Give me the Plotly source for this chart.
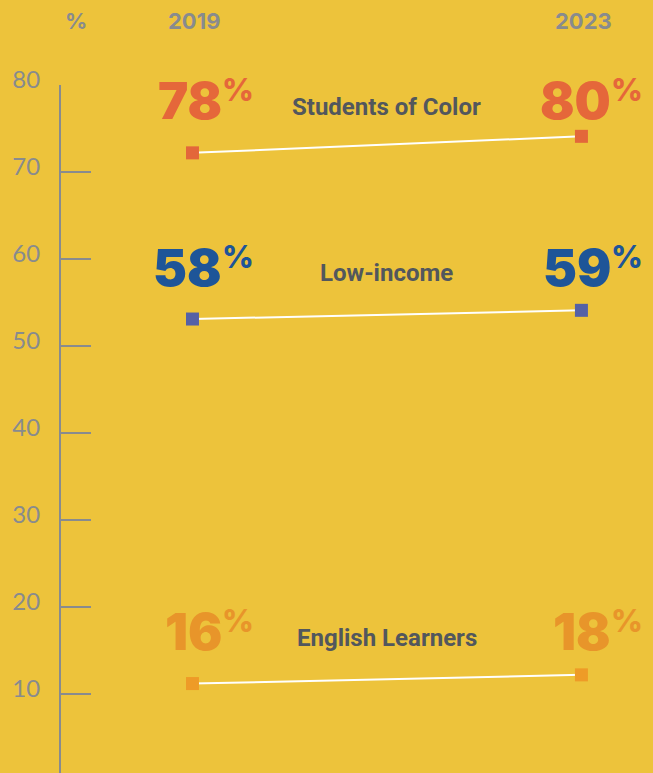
import plotly.graph_objects as go

# data
years = ["2019", "2023"]
groups = ["Students of Color", "Low-income", "English Learners"]
pct_2019 = [78, 58, 16]          # printed labels
pct_2023 = [80, 59, 18]
pos_2019 = [72.2, 53.1, 11.2]    # where the markers sit on the axis
pos_2023 = [74.1, 54.1, 12.2]
tick_vals = [10, 20, 30, 40, 50, 60, 70, 80]

marker_colors = ["#E3673A", "#5561A6", "#EE9B27"]
label_colors = ["#E5673A", "#1E5598", "#E8952A"]
bg = "#EDC33B"
grey = "#888B8E"

fig = go.Figure()

for i, g in enumerate(groups):
    fig.add_trace(go.Scatter(
        x=[0, 1], y=[pos_2019[i], pos_2023[i]],
        mode="lines+markers",
        line=dict(color="white", width=2),
        marker=dict(symbol="square", size=13, color=marker_colors[i],
                    line=dict(width=0)),
        cliponaxis=False, name=g, hoverinfo="skip"))

    for xv, val in [(0, pct_2019[i]), (1, pct_2023[i])]:
        fig.add_annotation(x=xv, y=pos_2019[i], xref="x", yref="y",
                           text=str(val), showarrow=False,
                           xanchor="right", yanchor="middle",
                           xshift=32, yshift=52,
                           font=dict(family="Inter", size=51, weight=900,
                                     color=label_colors[i]))
        fig.add_annotation(x=xv, y=pos_2019[i], xref="x", yref="y",
                           text="%", showarrow=False,
                           xanchor="left", yanchor="middle",
                           xshift=28, yshift=63,
                           font=dict(family="Inter", size=31, weight=800,
                                     color=label_colors[i]))

    # group name, centred between the two years
    fig.add_annotation(x=0.5, y=pos_2019[i], xref="x", yref="y",
                       text=g, showarrow=False, yanchor="middle", yshift=46,
                       font=dict(family="Roboto", size=24, weight=700,
                                 color="#52575D"))

# column headers
for xv, t in [(0, years[0]), (1, years[1])]:
    fig.add_annotation(x=xv, y=1, xref="x", yref="paper", text=t,
                       showarrow=False, yanchor="middle", yshift=64, xshift=2,
                       font=dict(family="Inter", size=22, weight=700, color=grey))
fig.add_annotation(x=(76 - 192.5) / 389, y=1, xref="x", yref="paper", text="%",
                   showarrow=False, yanchor="middle", yshift=64,
                   font=dict(family="Inter", size=22, weight=700, color=grey))

fig.update_layout(
    width=653, height=773,
    margin=dict(l=61, r=0, t=85, b=0),
    paper_bgcolor=bg, plot_bgcolor=bg,
    showlegend=False,
    xaxis=dict(range=[-0.338, 1.184], visible=False, fixedrange=True),
    yaxis=dict(range=[0.92, 80], tickvals=tick_vals, fixedrange=True,
               showgrid=False, zeroline=False,
               showline=True, linecolor=grey, linewidth=2,
               ticks="inside", ticklen=30, tickwidth=2, tickcolor=grey,
               ticklabelstandoff=14, ticklabelshift=-5,
               tickfont=dict(family="Lato", size=24, weight=400, color=grey)),
)

fig.write_html("out.html", config={"displayModeBar": False},
               post_script="document.body.style.margin='0';")
